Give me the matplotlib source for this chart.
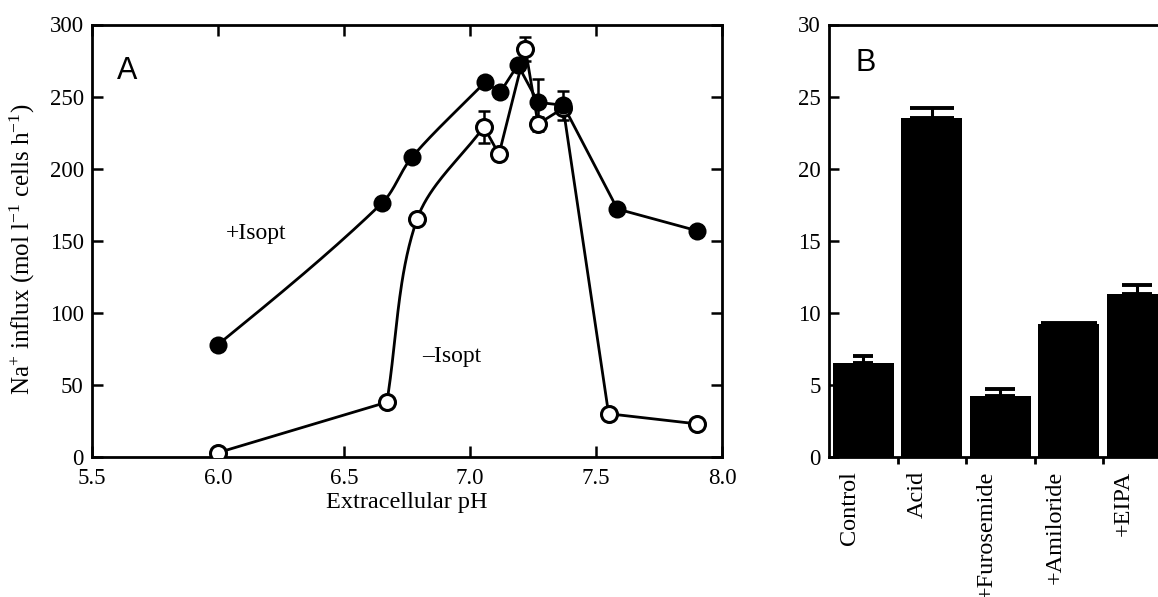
import numpy as np
import matplotlib
matplotlib.use("Agg")
import matplotlib.pyplot as plt
import matplotlib.transforms as mtransforms

plt.rcParams['font.family'] = ['Liberation Serif', 'DejaVu Serif']
plt.rcParams['mathtext.fontset'] = 'custom'
plt.rcParams['mathtext.rm'] = 'Liberation Serif'
plt.rcParams['mathtext.it'] = 'Liberation Serif:italic'

# ---- Panel A data ----
ph_plus = [6.0, 6.65, 6.77, 7.06, 7.12, 7.19, 7.27, 7.37, 7.585, 7.90]
na_plus = [78, 176, 208, 260, 253, 272, 246, 244, 172, 157]
err_plus = [0, 0, 0, 0, 0, 0, 16, 10, 0, 0]

ph_minus = [6.0, 6.67, 6.79, 7.055, 7.115, 7.22, 7.27, 7.37, 7.55, 7.90]
na_minus = [3, 38, 165, 229, 210, 283, 231, 242, 30, 23]
err_minus = [0, 0, 0, 11, 0, 8, 5, 0, 0, 0]

xticks_a = [5.5, 6.0, 6.5, 7.0, 7.5, 8.0]
yticks_a = [0, 50, 100, 150, 200, 250, 300]

# ---- Panel B data ----
categories = ['Control', 'Acid', '+Furosemide', '+Amiloride', '+EIPA']
bar_vals = [6.5, 23.5, 4.2, 9.2, 11.3]
bar_errs = [0.5, 0.7, 0.5, 0.1, 0.6]
yticks_b = [0, 5, 10, 15, 20, 25, 30]

W, H = 1158, 597
fig = plt.figure(figsize=(W / 100, H / 100), dpi=100)

axA = fig.add_axes([92 / W, (H - 457) / H, 630 / W, 432.5 / H])
axA.set_xlim(5.5, 8.0)
axA.set_ylim(0, 300)


def smooth_path(xs, ys, sx, sy, n=40, corner_deg=40.0):
    """Hermite path through the data points; sharp turns stay as corners."""
    P = np.column_stack([np.asarray(xs, float) * sx, np.asarray(ys, float) * sy])
    N = len(P)
    D = np.diff(P, axis=0)
    L = np.linalg.norm(D, axis=1)
    corner = np.ones(N, bool)
    for i in range(1, N - 1):
        a, b = D[i - 1] / L[i - 1], D[i] / L[i]
        ang = np.degrees(np.arccos(np.clip(np.dot(a, b), -1, 1)))
        corner[i] = ang > corner_deg

    segs = []
    for i in range(N - 1):
        p1, p2 = P[i], P[i + 1]
        m1 = None if corner[i] else (P[i + 1] - P[i - 1]) * L[i] / (L[i - 1] + L[i])
        m2 = None if corner[i + 1] else (P[i + 2] - P[i]) * L[i] / (L[i] + L[i + 1])
        if m1 is None and m2 is None:
            m1 = m2 = p2 - p1
        elif m1 is None:
            m1 = (1.5 * (p2 - p1) - 0.5 * m2) if i == 0 else (p2 - p1)
        elif m2 is None:
            m2 = (1.5 * (p2 - p1) - 0.5 * m1) if i + 1 == N - 1 else (p2 - p1)
        t = np.linspace(0, 1, n)[:, None]
        h00 = 2 * t**3 - 3 * t**2 + 1
        h10 = t**3 - 2 * t**2 + t
        h01 = -2 * t**3 + 3 * t**2
        h11 = t**3 - t**2
        segs.append(h00 * p1 + h10 * m1 + h01 * p2 + h11 * m2)
    C = np.vstack(segs)
    return C[:, 0] / sx, C[:, 1] / sy


sx, sy = 252.0, 1.4417
lw = 2.0
cx, cy = smooth_path(ph_minus, na_minus, sx, sy)
axA.plot(cx, cy, color='black', lw=lw, zorder=2)
cx, cy = smooth_path(ph_plus, na_plus, sx, sy)
axA.plot(cx, cy, color='black', lw=lw, zorder=2)

axA.errorbar(ph_minus, na_minus, yerr=err_minus, fmt='none', ecolor='black',
             elinewidth=1.8, capsize=4, capthick=1.8, zorder=3)
axA.errorbar(ph_plus, na_plus, yerr=err_plus, fmt='none', ecolor='black',
             elinewidth=1.8, capsize=4, capthick=1.8, zorder=3)
axA.plot(ph_minus, na_minus, 'o', ms=11.5, mfc='white', mec='black', mew=2.2, zorder=4)
axA.plot(ph_plus, na_plus, 'o', ms=11.5, mfc='black', mec='black', mew=1.5, zorder=5)

axA.set_xticks(xticks_a)
axA.set_xticklabels([f"{v:.1f}" for v in xticks_a])
axA.set_yticks(yticks_a)
axA.tick_params(direction='in', length=8, width=1.8, top=True, right=True,
                labelsize=16.5)
axA.tick_params(axis='y', pad=6)
axA.tick_params(axis='x', pad=8)
for s in axA.spines.values():
    s.set_linewidth(2.0)
axA.set_xlabel('Extracellular pH', fontsize=17.5, labelpad=2)
axA.set_ylabel('Na$^{+}$ influx (mol l$^{-1}$ cells h$^{-1}$)', fontsize=18)
axA.yaxis.set_label_coords(-0.088, 0.48)

axA.text(5.6, 268, 'A', fontsize=22, family='Liberation Sans', va='center', ha='left')
axA.text(6.03, 155, '+Isopt', fontsize=17, va='center', ha='left')
axA.text(6.81, 70, '\u2013Isopt', fontsize=17, va='center', ha='left')

# ---- Panel B ----
unit_px = 68.5
axB = fig.add_axes([829 / W, (H - 457) / H, 6 * unit_px / W, 432.5 / H])
axB.set_xlim(-0.5, 5.5)
axB.set_ylim(0, 30)
pos = np.arange(len(categories))
axB.bar(pos, bar_vals, width=0.89, color='black', zorder=2)
capsizes = [7.5, 16, 11, 20, 11]
for p, v, e, c in zip(pos, bar_vals, bar_errs, capsizes):
    axB.errorbar([p], [v], yerr=[[0], [e]], fmt='none', ecolor='black',
                 elinewidth=2.2, capsize=c, capthick=2.8, zorder=3)
axB.set_yticks(yticks_b)
axB.tick_params(axis='y', direction='in', length=7, width=1.8, labelsize=16.5, pad=6)
axB.set_xticks(pos)
axB.set_xticklabels(categories, rotation=90, va='top', ha='center')
axB.tick_params(axis='x', which='major', length=0, labelsize=17.5, pad=10)
axB.set_xticks(pos[:-1] + 0.5, minor=True)
axB.tick_params(axis='x', which='minor', direction='out', length=5, width=2)
off = mtransforms.ScaledTranslation(-14 / 100, 0, fig.dpi_scale_trans)
for lab in axB.get_xticklabels():
    lab.set_transform(lab.get_transform() + off)
for s in axB.spines.values():
    s.set_linewidth(2.0)
axB.text(-0.12, 27.3, 'B', fontsize=22, family='Liberation Sans', va='center', ha='left')

fig.savefig('out.png', dpi=100)
